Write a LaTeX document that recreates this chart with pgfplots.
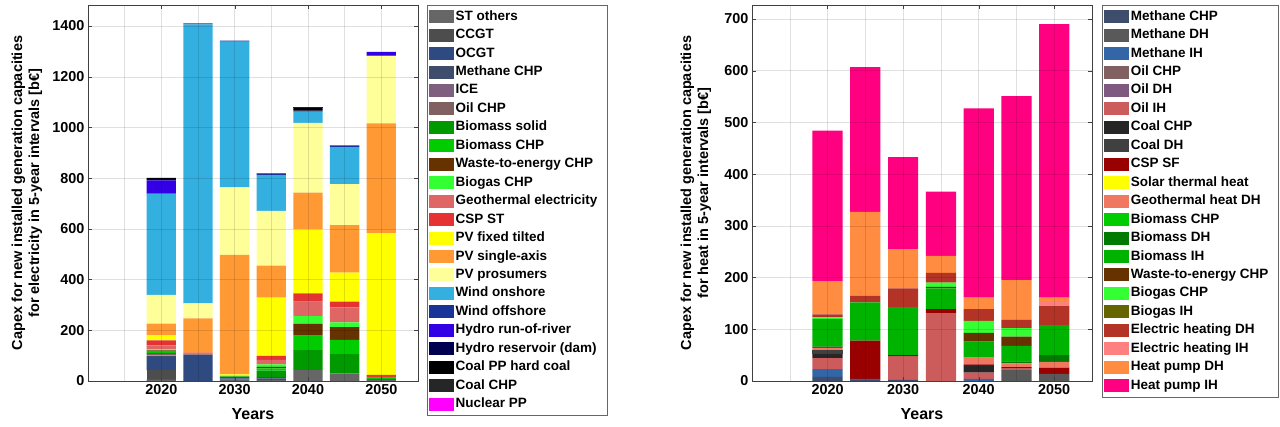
\documentclass[border=0pt]{standalone}
\usepackage{fontspec}
\setmainfont{Liberation Sans}
\usepackage{pgfplots}
\pgfplotsset{compat=1.18}
\usepackage{pgfplotstable}

% electricity side
\definecolor{cST}{HTML}{666666}
\definecolor{cCCGT}{HTML}{4D4D4D}
\definecolor{cOCGT}{HTML}{2E4A80}
\definecolor{cMCHP}{HTML}{3D4D6B}
\definecolor{cICE}{HTML}{7F5F80}
\definecolor{cOilCHP}{HTML}{806060}
\definecolor{cBioSol}{HTML}{009900}
\definecolor{cBioCHP}{HTML}{00CC00}
\definecolor{cWaste}{HTML}{663300}
\definecolor{cBiogas}{HTML}{33FF33}
\definecolor{cGeo}{HTML}{E06666}
\definecolor{cCSP}{HTML}{E53333}
\definecolor{cPVfix}{HTML}{FFFF00}
\definecolor{cPVsa}{HTML}{FF9933}
\definecolor{cPVpro}{HTML}{FFFF99}
\definecolor{cWon}{HTML}{33B0E0}
\definecolor{cWoff}{HTML}{1A3399}
\definecolor{cROR}{HTML}{3300E6}
\definecolor{cRes}{HTML}{000050}
\definecolor{cCoalPP}{HTML}{000000}
\definecolor{cCoalCHP}{HTML}{262626}
\definecolor{cNuc}{HTML}{FF00FF}
% heat side
\definecolor{hMDH}{HTML}{595959}
\definecolor{hMIH}{HTML}{3366A6}
\definecolor{hOilDH}{HTML}{805980}
\definecolor{hOilIH}{HTML}{CC5C5C}
\definecolor{hCoalDH}{HTML}{404040}
\definecolor{hCSPSF}{HTML}{990000}
\definecolor{hGeo}{HTML}{F07860}
\definecolor{hBioDH}{HTML}{007A00}
\definecolor{hBioIH}{HTML}{00B300}
\definecolor{hBiogIH}{HTML}{666600}
\definecolor{hElDH}{HTML}{B33326}
\definecolor{hElIH}{HTML}{FF8080}
\definecolor{hHPDH}{HTML}{FF8C40}
\definecolor{hHPIH}{HTML}{FF0080}

\pgfplotstableread{
year st ccgt ocgt mchp ice oilchp biosol biochp waste biogas geo csp pvfix pvsa pvpro won woff ror res coalpp coalchp nuc
2020 5 37 53 3 2 6 5 8 2 4 15 20 20 46 114 398 2 51 6 4 0 0
2025 0 0 103 0 0 2 0 0 0 0 3 4 0 135 59 1101 3 0 0 0 0 0
2030 5 0 5 5 0 0 1 2 0 0 0 2 6 471 267 575 3 0 0 0 0 0
2035 4 0 5 6 0 0 26 9 6 10 17 16 230 126 216 141 5 2 0 0 0 0
2040 43 0 0 0 0 0 79 57 46 31 57 33 252 145 275 44 2 0 2 11 2 0
2045 30 0 0 0 0 0 76 56 50 19 59 23 114 188 161 146 7 0 0 0 0 0
2050 4 0 0 0 0 0 4 4 0 0 4 8 558 434 265 0 3 14 0 0 0 0
}\elec

\pgfplotstableread{
year mchp mdh mih oilchp oildh oilih coalchp coaldh cspsf solar geo biochp biodh bioih waste biogas biogih eldh elih hpdh hpih
2020 8 0 15 0 0 21 8 8 0 0 4 0 3 53 0 3 0 6 2 62 291
2025 2 0 2 0 0 0 0 0 74 0 0 0 0 74 0 0 0 13 0 162 280
2030 2 0 0 0 0 45 0 0 3 0 0 0 0 93 0 0 0 36 0 76 178
2035 0 0 0 0 0 131 0 0 8 0 0 0 0 40 3 8 0 19 0 33 124
2040 0 0 4 0 0 12 13 0 3 0 13 0 0 31 17 23 0 23 0 22 366
2045 0 21 0 0 0 3 0 0 3 0 7 0 4 30 18 16 0 16 0 77 356
2050 0 14 0 0 0 0 0 0 12 0 11 0 13 58 0 0 0 37 8 8 529
}\heat

\pgfplotsset{
  capex/.style={
    scale only axis,
    anchor=south west,
    height=376pt,
    ybar stacked,
    bar width=4,
    xmin=2010, xmax=2055,
    ymin=0,
    xtick={2020,2030,2040,2050},
    minor xtick={2015,2025,2035,2045},
    /pgf/number format/assume math mode=true,
    /pgf/number format/1000 sep={},
    tick label style={font=\bfseries\fontsize{14.4}{16}\selectfont},
    xlabel={Years},
    xlabel style={font=\bfseries\fontsize{16}{18}\selectfont, yshift=-7pt},
    ylabel style={font=\bfseries\fontsize{14.5}{17}\selectfont, align=center, anchor=center},
    grid=both,
    major grid style={black, opacity=0.12},
    minor grid style={black, opacity=0.12},
    axis on top,
    axis line style={black!75},
    tick style={black!75},
    tick align=inside,
    tick pos=both,
    major tick length=4pt,
    minor tick length=0pt,
    every axis plot/.append style={draw=none},
    legend cell align=left,
    legend image code/.code={\fill[##1] (0pt,-6.5pt) rectangle (25pt,6.5pt);},
    legend style={
      anchor=north west,
      draw=none, fill=none,
      font=\bfseries\fontsize{13.5}{15}\selectfont,
      inner xsep=2pt, inner ysep=3.5pt,
      row sep=2.45pt,
      nodes={inner sep=1.5pt, text height=10pt, text depth=3pt},
    },
  },
}

\begin{document}
\begin{tikzpicture}
\useasboundingbox (0,0) rectangle (1280pt,427pt);

\begin{axis}[capex,
  at={(88pt,46pt)}, width=330pt,
  ymax=1483, ytick={0,200,...,1400},
  ylabel={Capex for new installed generation capacities\\for electricity in 5-year intervals [b€]},
  ylabel style={at={(axis description cs:-0.185,0.5)}},
  legend style={at={(axis description cs:1.027,1)}, name=eleg},
]
\addplot[fill=cST] table[x=year,y=st]{\elec};
\addplot[fill=cCCGT] table[x=year,y=ccgt]{\elec};
\addplot[fill=cOCGT] table[x=year,y=ocgt]{\elec};
\addplot[fill=cMCHP] table[x=year,y=mchp]{\elec};
\addplot[fill=cICE] table[x=year,y=ice]{\elec};
\addplot[fill=cOilCHP] table[x=year,y=oilchp]{\elec};
\addplot[fill=cBioSol] table[x=year,y=biosol]{\elec};
\addplot[fill=cBioCHP] table[x=year,y=biochp]{\elec};
\addplot[fill=cWaste] table[x=year,y=waste]{\elec};
\addplot[fill=cBiogas] table[x=year,y=biogas]{\elec};
\addplot[fill=cGeo] table[x=year,y=geo]{\elec};
\addplot[fill=cCSP] table[x=year,y=csp]{\elec};
\addplot[fill=cPVfix] table[x=year,y=pvfix]{\elec};
\addplot[fill=cPVsa] table[x=year,y=pvsa]{\elec};
\addplot[fill=cPVpro] table[x=year,y=pvpro]{\elec};
\addplot[fill=cWon] table[x=year,y=won]{\elec};
\addplot[fill=cWoff] table[x=year,y=woff]{\elec};
\addplot[fill=cROR] table[x=year,y=ror]{\elec};
\addplot[fill=cRes] table[x=year,y=res]{\elec};
\addplot[fill=cCoalPP] table[x=year,y=coalpp]{\elec};
\addplot[fill=cCoalCHP] table[x=year,y=coalchp]{\elec};
\addplot[fill=cNuc] table[x=year,y=nuc]{\elec};
\legend{ST others,CCGT,OCGT,Methane CHP,ICE,Oil CHP,Biomass solid,Biomass CHP,Waste-to-energy CHP,Biogas CHP,Geothermal electricity,CSP ST,PV fixed tilted,PV single-axis,PV prosumers,Wind onshore,Wind offshore,Hydro run-of-river,Hydro reservoir (dam),Coal PP hard coal,Coal CHP,Nuclear PP}
\end{axis}
\draw[black!60] (eleg.north west) rectangle ++(180pt,-410pt);

\begin{axis}[capex,
  at={(752pt,46pt)}, width=340pt,
  ymax=727, ytick={0,100,...,700},
  ylabel={Capex for new installed generation capacities\\for heat in 5-year intervals [b€]},
  ylabel style={at={(axis description cs:-0.165,0.5)}},
  legend style={at={(axis description cs:1.03,1)}, name=hleg},
]
\addplot[fill=cMCHP] table[x=year,y=mchp]{\heat};
\addplot[fill=hMDH] table[x=year,y=mdh]{\heat};
\addplot[fill=hMIH] table[x=year,y=mih]{\heat};
\addplot[fill=cOilCHP] table[x=year,y=oilchp]{\heat};
\addplot[fill=hOilDH] table[x=year,y=oildh]{\heat};
\addplot[fill=hOilIH] table[x=year,y=oilih]{\heat};
\addplot[fill=cCoalCHP] table[x=year,y=coalchp]{\heat};
\addplot[fill=hCoalDH] table[x=year,y=coaldh]{\heat};
\addplot[fill=hCSPSF] table[x=year,y=cspsf]{\heat};
\addplot[fill=cPVfix] table[x=year,y=solar]{\heat};
\addplot[fill=hGeo] table[x=year,y=geo]{\heat};
\addplot[fill=cBioCHP] table[x=year,y=biochp]{\heat};
\addplot[fill=hBioDH] table[x=year,y=biodh]{\heat};
\addplot[fill=hBioIH] table[x=year,y=bioih]{\heat};
\addplot[fill=cWaste] table[x=year,y=waste]{\heat};
\addplot[fill=cBiogas] table[x=year,y=biogas]{\heat};
\addplot[fill=hBiogIH] table[x=year,y=biogih]{\heat};
\addplot[fill=hElDH] table[x=year,y=eldh]{\heat};
\addplot[fill=hElIH] table[x=year,y=elih]{\heat};
\addplot[fill=hHPDH] table[x=year,y=hpdh]{\heat};
\addplot[fill=hHPIH] table[x=year,y=hpih]{\heat};
\legend{Methane CHP,Methane DH,Methane IH,Oil CHP,Oil DH,Oil IH,Coal CHP,Coal DH,CSP SF,Solar thermal heat,Geothermal heat DH,Biomass CHP,Biomass DH,Biomass IH,Waste-to-energy CHP,Biogas CHP,Biogas IH,Electric heating DH,Electric heating IH,Heat pump DH,Heat pump IH}
\end{axis}
\draw[black!60] (hleg.north west) rectangle ++(176pt,-392pt);
\end{tikzpicture}
\end{document}
